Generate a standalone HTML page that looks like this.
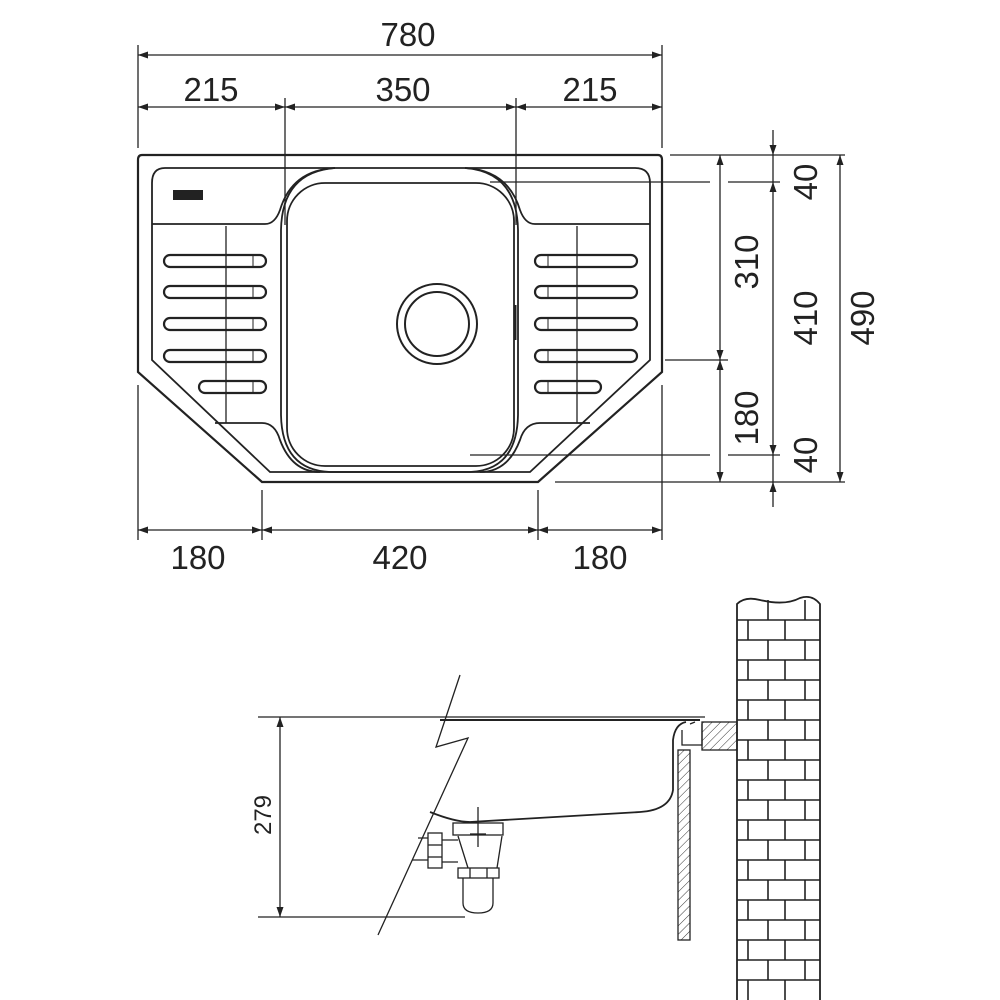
<!DOCTYPE html>
<html><head><meta charset="utf-8"><style>body{margin:0;background:#fff}svg{display:block}</style></head><body>
<svg width="1000" height="1000" viewBox="0 0 1000 1000" xmlns="http://www.w3.org/2000/svg">
<defs>
<marker id="a" viewBox="0 0 10 10" refX="10" refY="5" markerWidth="10" markerHeight="14" markerUnits="userSpaceOnUse" orient="auto-start-reverse"><path d="M0,1.5 L10,5 L0,8.5Z" fill="#222"/></marker>
<pattern id="h" width="6" height="6" patternUnits="userSpaceOnUse" patternTransform="rotate(45)"><line x1="0" y1="0" x2="0" y2="6" stroke="#333" stroke-width="1"/></pattern>
</defs>
<g fill="none" stroke="#222" stroke-width="1.3">
<!-- top dims -->
<line x1="138" y1="45" x2="138" y2="148"/><line x1="662" y1="45" x2="662" y2="148"/>
<line x1="138" y1="55" x2="662" y2="55" marker-start="url(#a)" marker-end="url(#a)"/>
<line x1="285" y1="98" x2="285" y2="225"/><line x1="516" y1="98" x2="516" y2="225"/>
<line x1="138" y1="107" x2="285" y2="107" marker-start="url(#a)" marker-end="url(#a)"/>
<line x1="285" y1="107" x2="516" y2="107" marker-start="url(#a)" marker-end="url(#a)"/>
<line x1="516" y1="107" x2="662" y2="107" marker-start="url(#a)" marker-end="url(#a)"/>
<!-- bottom dims -->
<line x1="138" y1="385" x2="138" y2="540"/><line x1="662" y1="385" x2="662" y2="540"/>
<line x1="262" y1="490" x2="262" y2="540"/><line x1="538" y1="490" x2="538" y2="540"/>
<line x1="138" y1="530" x2="262" y2="530" marker-start="url(#a)" marker-end="url(#a)"/>
<line x1="262" y1="530" x2="538" y2="530" marker-start="url(#a)" marker-end="url(#a)"/>
<line x1="538" y1="530" x2="662" y2="530" marker-start="url(#a)" marker-end="url(#a)"/>
<!-- right dims -->
<line x1="670" y1="155" x2="845" y2="155"/>
<line x1="490" y1="182" x2="710" y2="182"/><line x1="728" y1="182" x2="780" y2="182"/>
<line x1="665" y1="360" x2="728" y2="360"/>
<line x1="470" y1="455" x2="710" y2="455"/><line x1="728" y1="455" x2="780" y2="455"/>
<line x1="555" y1="482" x2="845" y2="482"/>
<line x1="720" y1="155" x2="720" y2="360" marker-start="url(#a)" marker-end="url(#a)"/>
<line x1="720" y1="360" x2="720" y2="482" marker-start="url(#a)" marker-end="url(#a)"/>
<line x1="773" y1="130" x2="773" y2="155" marker-end="url(#a)"/>
<line x1="773" y1="182" x2="773" y2="455" marker-start="url(#a)" marker-end="url(#a)"/>
<line x1="773" y1="507" x2="773" y2="482" marker-end="url(#a)"/>
<line x1="773" y1="155" x2="773" y2="182"/><line x1="773" y1="455" x2="773" y2="482"/>
<line x1="840" y1="155" x2="840" y2="482" marker-start="url(#a)" marker-end="url(#a)"/>
<!-- sink outline -->
<path d="M142,155 H658 Q662,155 662,160 V372 L538,482 H262 L138,372 V160 Q138,155 142,155Z" stroke-width="2.2"/>
<path d="M165,168 H635 Q650,168 650,183 V360 L530,472 H270 L152,360 V183 Q152,168 165,168Z" stroke-width="1.8"/>
<!-- shelf -->
<path d="M152,224 H265 Q275,224 280,210 Q292,170 335,168 M465,168 Q508,170 520,210 Q525,224 535,224 H650" stroke-width="1.8"/>
<rect x="173" y="190" width="30" height="10" fill="#222" stroke="none"/>
<line x1="226" y1="226" x2="226" y2="423"/><line x1="577" y1="226" x2="577" y2="423"/>
<path d="M215,423 H262 Q275,423 280,440 Q292,472 320,472 M480,472 Q508,472 520,440 Q525,423 540,423 H590" stroke-width="1.8"/>
<!-- basin -->
<path d="M335,168 Q282,172 281,230 V415 Q282,470 330,472 H470 Q517,470 518,415 V230 Q517,172 465,168" stroke-width="1.8"/>
<rect x="287" y="183" width="227" height="283" rx="38" stroke-width="1.8"/>
<circle cx="437" cy="324" r="40" stroke-width="2"/><circle cx="437" cy="324" r="32" stroke-width="2"/>
<line x1="515" y1="305" x2="515" y2="340" stroke-width="3"/>
<!-- slots -->
<g stroke-width="2.2">
<rect x="164" y="255" width="102" height="12" rx="6"/><rect x="164" y="286" width="102" height="12" rx="6"/>
<rect x="164" y="318" width="102" height="12" rx="6"/><rect x="164" y="350" width="102" height="12" rx="6"/>
<rect x="199" y="381" width="67" height="12" rx="6"/>
<rect x="535" y="255" width="102" height="12" rx="6"/><rect x="535" y="286" width="102" height="12" rx="6"/>
<rect x="535" y="318" width="102" height="12" rx="6"/><rect x="535" y="350" width="102" height="12" rx="6"/>
<rect x="535" y="381" width="66" height="12" rx="6"/>
</g>
<g stroke-width="1"><line x1="253" y1="256" x2="253" y2="266"/><line x1="253" y1="287" x2="253" y2="297"/><line x1="253" y1="319" x2="253" y2="329"/><line x1="253" y1="351" x2="253" y2="361"/><line x1="253" y1="382" x2="253" y2="392"/>
<line x1="548" y1="256" x2="548" y2="266"/><line x1="548" y1="287" x2="548" y2="297"/><line x1="548" y1="319" x2="548" y2="329"/><line x1="548" y1="351" x2="548" y2="361"/><line x1="548" y1="382" x2="548" y2="392"/></g>

<!-- side view -->
<line x1="258" y1="717" x2="705" y2="717"/><line x1="258" y1="917" x2="465" y2="917"/>
<line x1="440" y1="720" x2="700" y2="720" stroke-width="2"/>
<line x1="280" y1="717" x2="280" y2="917" marker-start="url(#a)" marker-end="url(#a)"/>
<path d="M460,675 L436,747 L468,738 L378,935"/>
<path d="M686,722 Q675,724 673,740 V790 Q670,810 640,812 L470,822 Q455,822 430,812" stroke-width="1.8"/>
<path d="M682,730 V745 H702 V724 M690,724 L695,722"/>
<rect x="702" y="722" width="35" height="28" fill="url(#h)"/>
<rect x="678" y="750" width="12" height="190" fill="url(#h)"/>
<!-- drain -->
<rect x="453" y="823" width="50" height="12"/>
<path d="M458,836 L468,868 M502,836 L497,868"/>
<rect x="458" y="868" width="41" height="10"/><line x1="470" y1="868" x2="470" y2="878"/><line x1="487" y1="868" x2="487" y2="878"/>
<path d="M463,878 V903 Q463,913 478,913 Q493,913 493,903 V878"/>
<rect x="428" y="833" width="14" height="35"/><line x1="428" y1="845" x2="442" y2="845"/><line x1="428" y1="857" x2="442" y2="857"/>
<path d="M442,840 H458 M442,862 H458 M418,838 H428 M412,860 H428"/>
<line x1="478" y1="807" x2="478" y2="847"/><line x1="470" y1="834" x2="486" y2="834"/>
<!-- wall -->
<path d="M737,1000 V604 Q745,596 760,600 Q785,606 800,598 Q812,594 820,604 V1000" stroke-width="1.8"/>
<g stroke-width="1.6">
<line x1="737" y1="620" x2="820" y2="620"/><line x1="737" y1="640" x2="820" y2="640"/><line x1="737" y1="660" x2="820" y2="660"/><line x1="737" y1="680" x2="820" y2="680"/><line x1="737" y1="700" x2="820" y2="700"/><line x1="737" y1="720" x2="820" y2="720"/><line x1="737" y1="740" x2="820" y2="740"/><line x1="737" y1="760" x2="820" y2="760"/><line x1="737" y1="780" x2="820" y2="780"/><line x1="737" y1="800" x2="820" y2="800"/><line x1="737" y1="820" x2="820" y2="820"/><line x1="737" y1="840" x2="820" y2="840"/><line x1="737" y1="860" x2="820" y2="860"/><line x1="737" y1="880" x2="820" y2="880"/><line x1="737" y1="900" x2="820" y2="900"/><line x1="737" y1="920" x2="820" y2="920"/><line x1="737" y1="940" x2="820" y2="940"/><line x1="737" y1="960" x2="820" y2="960"/><line x1="737" y1="980" x2="820" y2="980"/>
</g>
<g stroke-width="1.6" id="br">
<path d="M768,600V620 M805,600V620 M748,620V640 M785,620V640 M768,640V660 M805,640V660 M748,660V680 M785,660V680 M768,680V700 M805,680V700 M748,700V720 M785,700V720 M768,720V740 M805,720V740 M748,740V760 M785,740V760 M768,760V780 M805,760V780 M748,780V800 M785,780V800 M768,800V820 M805,800V820 M748,820V840 M785,820V840 M768,840V860 M805,840V860 M748,860V880 M785,860V880 M768,880V900 M805,880V900 M748,900V920 M785,900V920 M768,920V940 M805,920V940 M748,940V960 M785,940V960 M768,960V980 M805,960V980 M748,980V1000 M785,980V1000"/>
</g>
</g>
<g font-family="Liberation Sans, sans-serif" fill="#222" text-anchor="middle">
<text x="408" y="46" font-size="33">780</text>
<text x="211" y="101" font-size="33">215</text>
<text x="403" y="101" font-size="33">350</text>
<text x="590" y="101" font-size="33">215</text>
<text x="198" y="569" font-size="33">180</text>
<text x="400" y="569" font-size="33">420</text>
<text x="600" y="569" font-size="33">180</text>
<text transform="translate(758,262) rotate(-90)" font-size="33">310</text>
<text transform="translate(758,418) rotate(-90)" font-size="33">180</text>
<text transform="translate(817,182) rotate(-90)" font-size="33">40</text>
<text transform="translate(817,318) rotate(-90)" font-size="33">410</text>
<text transform="translate(817,455) rotate(-90)" font-size="33">40</text>
<text transform="translate(874,318) rotate(-90)" font-size="33">490</text>
<text transform="translate(271,815) rotate(-90)" font-size="24">279</text>
</g>
</svg>
</body></html>
